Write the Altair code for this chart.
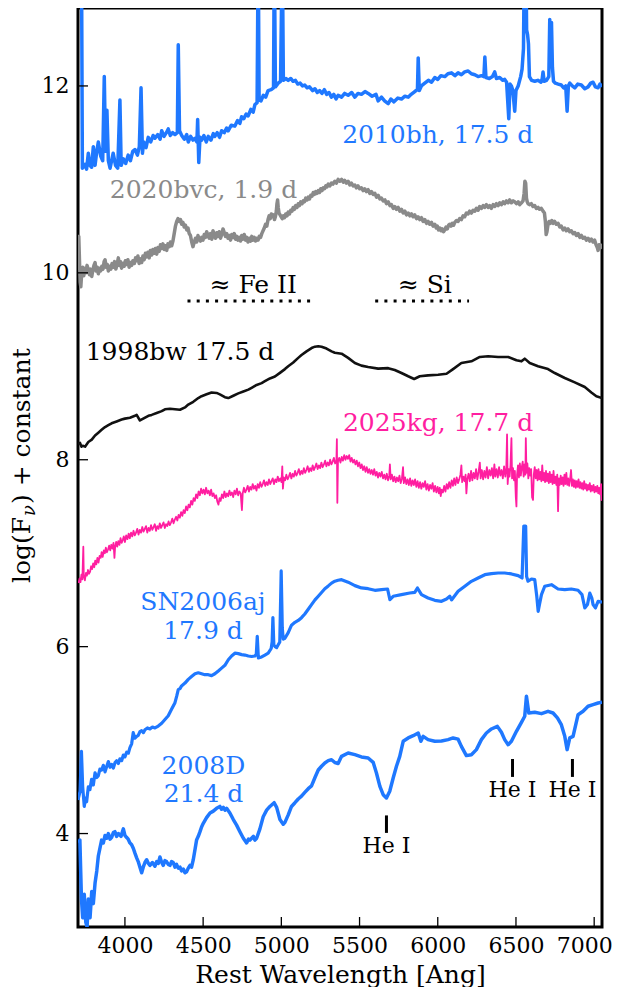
import altair as alt
import pandas as pd

FONT = "DejaVu Serif"
W, H = 524, 919
X_DOMAIN = [3700, 7050]
Y_DOMAIN = [3.0, 12.834]
X_TICKS = [4000, 4500, 5000, 5500, 6000, 6500, 7000]
Y_TICKS = [4, 6, 8, 10, 12]

BLUE = "#1f78ff"
GREY = "#8a8a8a"
PINK = "#ff1ea0"

# (rest wavelength [A], log F_nu + constant)
spec_2010bh = [
    (3700, 13.5), (3722, 13.5), (3728, 11.12), (3745, 11.16), (3755, 11.11), (3766, 11.28),
    (3776, 11.15), (3787, 11.13), (3798, 11.35), (3809, 11.15), (3820, 11.30), (3830, 11.40),
    (3845, 11.25), (3858, 11.20), (3868, 12.10), (3876, 11.30), (3885, 11.74), (3894, 11.20),
    (3905, 11.12), (3915, 11.20), (3925, 11.28), (3940, 11.15), (3954, 11.12), (3968, 11.85),
    (3976, 11.15), (3990, 11.22), (4005, 11.17), (4021, 11.26), (4035, 11.20), (4050, 11.30),
    (4064, 11.32), (4080, 11.26), (4092, 11.35), (4103, 11.98), (4112, 11.28), (4120, 11.40),
    (4135, 11.34), (4149, 11.45), (4165, 11.40), (4180, 11.47), (4192, 11.44), (4210, 11.48),
    (4225, 11.43), (4235, 11.52), (4250, 11.46), (4265, 11.50), (4277, 11.54), (4290, 11.47),
    (4305, 11.50), (4320, 11.48), (4335, 11.50), (4341, 12.44), (4349, 11.52), (4363, 11.47),
    (4380, 11.43), (4395, 11.48), (4405, 11.40), (4420, 11.46), (4435, 11.42), (4448, 11.44),
    (4460, 11.40), (4465, 11.64), (4472, 11.18), (4480, 11.45), (4490, 11.42), (4505, 11.47),
    (4520, 11.40), (4533, 11.46), (4550, 11.42), (4565, 11.49), (4575, 11.46), (4590, 11.50),
    (4605, 11.45), (4618, 11.52), (4635, 11.50), (4650, 11.55), (4660, 11.52), (4680, 11.58),
    (4703, 11.57), (4720, 11.63), (4735, 11.60), (4746, 11.67), (4760, 11.65), (4775, 11.70),
    (4788, 11.68), (4805, 11.75), (4820, 11.72), (4831, 11.80), (4845, 11.82), (4852, 13.5),
    (4858, 11.85), (4870, 11.84), (4885, 11.90), (4900, 11.88), (4915, 11.95), (4935, 11.96),
    (4950, 11.98), (4955, 13.5), (4962, 11.99), (4980, 12.03), (4995, 12.05), (5006, 13.5),
    (5013, 12.06), (5030, 12.08), (5044, 12.06), (5060, 12.08), (5075, 12.05), (5090, 12.06),
    (5105, 12.02), (5120, 12.03), (5135, 12.00), (5150, 12.01), (5165, 11.98), (5180, 11.99),
    (5200, 11.95), (5215, 11.97), (5230, 11.93), (5245, 11.95), (5260, 11.92), (5275, 11.96),
    (5290, 11.91), (5305, 11.93), (5320, 11.88), (5335, 11.91), (5350, 11.86), (5363, 11.90),
    (5385, 11.88), (5405, 11.92), (5427, 11.90), (5450, 11.93), (5470, 11.88), (5490, 11.92),
    (5512, 11.91), (5535, 11.94), (5555, 11.92), (5580, 11.89), (5605, 11.91), (5619, 11.84),
    (5640, 11.88), (5660, 11.84), (5683, 11.81), (5700, 11.86), (5720, 11.83), (5745, 11.87),
    (5768, 11.86), (5790, 11.89), (5811, 11.88), (5830, 11.91), (5853, 11.94), (5870, 11.96),
    (5875, 12.30), (5882, 11.95), (5895, 12.00), (5917, 12.03), (5940, 12.06), (5960, 12.04),
    (5981, 12.09), (6000, 12.07), (6020, 12.11), (6045, 12.10), (6065, 12.13), (6088, 12.14),
    (6110, 12.11), (6130, 12.14), (6151, 12.12), (6172, 12.15), (6194, 12.16), (6215, 12.13),
    (6237, 12.12), (6258, 12.10), (6279, 12.11), (6295, 12.10), (6301, 12.31), (6308, 12.09),
    (6330, 12.08), (6350, 12.10), (6364, 12.15), (6375, 12.08), (6396, 12.09), (6415, 12.06),
    (6428, 12.07), (6440, 12.04), (6454, 11.65), (6462, 12.02), (6471, 12.00), (6480, 11.95),
    (6492, 11.73), (6500, 11.95), (6514, 12.00), (6530, 12.10), (6539, 12.18), (6548, 12.40),
    (6554, 13.5), (6563, 13.5), (6568, 12.60), (6574, 12.55), (6580, 12.45), (6586, 12.10),
    (6600, 12.06), (6620, 12.05), (6640, 12.06), (6660, 12.04), (6668, 12.08), (6673, 12.15),
    (6680, 12.05), (6695, 12.06), (6710, 12.10), (6716, 12.71), (6721, 12.30), (6727, 12.68),
    (6733, 12.20), (6740, 12.05), (6752, 12.03), (6770, 12.02), (6790, 12.01), (6805, 11.98),
    (6818, 12.00), (6827, 11.73), (6835, 12.00), (6844, 12.03), (6860, 12.00), (6876, 11.98),
    (6895, 12.02), (6918, 12.01), (6940, 11.97), (6961, 11.99), (6978, 12.03), (6993, 12.04),
    (7008, 11.99), (7025, 11.98), (7037, 12.02), (7050, 11.99),
]

spec_2020bvc = [
    (3700, 10.05), (3705, 10.39), (3710, 10.10), (3714, 9.90), (3718, 9.85), (3723, 9.98),
    (3730, 10.06), (3737, 9.97), (3744, 10.05), (3751, 10.00), (3758, 10.08), (3766, 10.03),
    (3773, 9.98), (3780, 10.04), (3788, 9.96), (3795, 10.03), (3802, 10.08), (3809, 10.11),
    (3816, 10.02), (3823, 10.06), (3830, 9.99), (3838, 10.05), (3845, 10.02), (3852, 10.07),
    (3860, 10.04), (3867, 10.12), (3873, 10.14), (3880, 10.06), (3887, 10.09), (3894, 10.02),
    (3902, 10.07), (3910, 10.04), (3918, 10.10), (3926, 10.06), (3934, 10.12), (3942, 10.04),
    (3950, 10.09), (3958, 10.16), (3965, 10.08), (3972, 10.12), (3979, 10.05), (3987, 10.10),
    (3995, 10.07), (4003, 10.13), (4011, 10.09), (4019, 10.14), (4027, 10.06), (4035, 10.11),
    (4043, 10.08), (4051, 10.13), (4060, 10.10), (4068, 10.16), (4075, 10.13), (4083, 10.18),
    (4091, 10.10), (4099, 10.15), (4107, 10.11), (4115, 10.18), (4123, 10.14), (4131, 10.21),
    (4139, 10.17), (4147, 10.22), (4155, 10.16), (4163, 10.24), (4171, 10.19), (4179, 10.25),
    (4187, 10.21), (4195, 10.26), (4203, 10.20), (4211, 10.27), (4219, 10.23), (4227, 10.30),
    (4235, 10.26), (4243, 10.31), (4251, 10.25), (4259, 10.29), (4267, 10.24), (4275, 10.31),
    (4283, 10.28), (4291, 10.33), (4299, 10.29), (4307, 10.34), (4315, 10.42), (4323, 10.50),
    (4331, 10.55), (4339, 10.58), (4347, 10.55), (4355, 10.57), (4363, 10.52), (4371, 10.54),
    (4379, 10.49), (4387, 10.51), (4395, 10.46), (4403, 10.48), (4411, 10.42), (4419, 10.40),
    (4427, 10.33), (4435, 10.28), (4443, 10.33), (4451, 10.37), (4459, 10.33), (4467, 10.40),
    (4475, 10.36), (4483, 10.34), (4491, 10.38), (4499, 10.35), (4507, 10.41), (4515, 10.38),
    (4523, 10.44), (4531, 10.40), (4539, 10.37), (4547, 10.42), (4555, 10.36), (4563, 10.45),
    (4571, 10.40), (4579, 10.37), (4587, 10.43), (4595, 10.39), (4603, 10.44), (4611, 10.37),
    (4619, 10.41), (4627, 10.47), (4635, 10.43), (4643, 10.39), (4651, 10.42), (4659, 10.37),
    (4667, 10.40), (4675, 10.35), (4683, 10.41), (4691, 10.38), (4699, 10.42), (4707, 10.36),
    (4715, 10.39), (4723, 10.35), (4731, 10.38), (4739, 10.34), (4747, 10.40), (4755, 10.36),
    (4763, 10.41), (4771, 10.35), (4779, 10.38), (4787, 10.33), (4795, 10.37), (4803, 10.34),
    (4811, 10.39), (4819, 10.35), (4827, 10.38), (4835, 10.34), (4843, 10.37), (4851, 10.35),
    (4859, 10.39), (4867, 10.38), (4875, 10.42), (4883, 10.45), (4891, 10.48), (4899, 10.52),
    (4907, 10.50), (4915, 10.57), (4922, 10.61), (4929, 10.58), (4936, 10.63), (4943, 10.60),
    (4950, 10.62), (4956, 10.57), (4962, 10.60), (4968, 10.66), (4972, 10.74), (4976, 10.78),
    (4980, 10.70), (4985, 10.64), (4992, 10.62), (4999, 10.60), (5006, 10.58), (5013, 10.61),
    (5020, 10.59), (5028, 10.63), (5036, 10.61), (5044, 10.65), (5052, 10.63), (5060, 10.67),
    (5068, 10.66), (5076, 10.70), (5084, 10.68), (5092, 10.72), (5100, 10.70), (5108, 10.74),
    (5116, 10.72), (5124, 10.76), (5132, 10.74), (5140, 10.77), (5148, 10.76), (5156, 10.80),
    (5164, 10.78), (5172, 10.81), (5180, 10.79), (5188, 10.83), (5196, 10.82), (5204, 10.86),
    (5212, 10.84), (5220, 10.87), (5228, 10.85), (5236, 10.88), (5244, 10.86), (5252, 10.90),
    (5260, 10.88), (5268, 10.91), (5276, 10.90), (5284, 10.93), (5292, 10.92), (5300, 10.95),
    (5310, 10.93), (5320, 10.96), (5330, 10.95), (5342, 10.98), (5352, 10.96), (5363, 11.00),
    (5374, 10.98), (5385, 11.00), (5396, 10.97), (5405, 10.99), (5416, 10.96), (5427, 10.98),
    (5438, 10.94), (5448, 10.96), (5459, 10.93), (5470, 10.94), (5480, 10.91), (5490, 10.93),
    (5501, 10.90), (5512, 10.91), (5523, 10.88), (5533, 10.90), (5544, 10.87), (5555, 10.89),
    (5566, 10.85), (5576, 10.87), (5587, 10.84), (5598, 10.85), (5609, 10.81), (5619, 10.83),
    (5630, 10.79), (5640, 10.80), (5651, 10.77), (5662, 10.78), (5672, 10.74), (5683, 10.76),
    (5694, 10.72), (5704, 10.73), (5715, 10.69), (5725, 10.71), (5736, 10.68), (5747, 10.70),
    (5758, 10.66), (5768, 10.68), (5779, 10.64), (5790, 10.66), (5800, 10.62), (5811, 10.64),
    (5822, 10.61), (5832, 10.63), (5843, 10.60), (5853, 10.62), (5864, 10.58), (5874, 10.60),
    (5885, 10.57), (5896, 10.59), (5906, 10.55), (5917, 10.57), (5928, 10.53), (5938, 10.55),
    (5949, 10.52), (5960, 10.54), (5970, 10.50), (5981, 10.52), (5990, 10.48), (5997, 10.50),
    (6005, 10.46), (6013, 10.48), (6021, 10.45), (6029, 10.47), (6037, 10.44), (6045, 10.46),
    (6053, 10.49), (6061, 10.47), (6069, 10.51), (6077, 10.52), (6085, 10.50), (6093, 10.53),
    (6101, 10.51), (6109, 10.54), (6119, 10.56), (6130, 10.55), (6140, 10.58), (6151, 10.57),
    (6162, 10.61), (6172, 10.60), (6183, 10.64), (6194, 10.63), (6204, 10.66), (6215, 10.64),
    (6226, 10.67), (6237, 10.66), (6247, 10.69), (6258, 10.67), (6268, 10.71), (6279, 10.69),
    (6290, 10.72), (6300, 10.70), (6311, 10.73), (6322, 10.70), (6332, 10.72), (6343, 10.69),
    (6354, 10.73), (6364, 10.71), (6375, 10.74), (6386, 10.72), (6396, 10.75), (6407, 10.73),
    (6418, 10.76), (6428, 10.74), (6439, 10.77), (6450, 10.75), (6460, 10.78), (6471, 10.75),
    (6482, 10.77), (6492, 10.76), (6503, 10.74), (6514, 10.76), (6524, 10.73), (6535, 10.75),
    (6545, 10.77), (6552, 10.85), (6557, 10.98), (6562, 10.96), (6567, 10.80), (6572, 10.76),
    (6577, 10.74), (6588, 10.73), (6598, 10.74), (6609, 10.71), (6620, 10.72), (6630, 10.69),
    (6641, 10.70), (6651, 10.68), (6662, 10.69), (6673, 10.66), (6682, 10.64), (6688, 10.55),
    (6693, 10.41), (6698, 10.44), (6705, 10.52), (6712, 10.55), (6720, 10.53), (6729, 10.56),
    (6737, 10.53), (6747, 10.55), (6758, 10.52), (6769, 10.53), (6780, 10.49), (6790, 10.50),
    (6801, 10.46), (6812, 10.48), (6822, 10.45), (6833, 10.47), (6844, 10.44), (6854, 10.45),
    (6865, 10.42), (6876, 10.43), (6886, 10.40), (6897, 10.42), (6908, 10.38), (6918, 10.40),
    (6929, 10.37), (6940, 10.38), (6950, 10.35), (6961, 10.37), (6972, 10.34), (6982, 10.36),
    (6993, 10.33), (7003, 10.35), (7012, 10.30), (7020, 10.27), (7025, 10.24), (7032, 10.30),
    (7040, 10.27), (7050, 10.31),
]

spec_1998bw = [
    (3700, 8.17), (3713, 8.18), (3722, 8.14), (3730, 8.15), (3745, 8.14), (3766, 8.19),
    (3788, 8.215), (3809, 8.26), (3830, 8.29), (3851, 8.32), (3873, 8.35), (3894, 8.37),
    (3915, 8.39), (3947, 8.41), (3979, 8.43), (4000, 8.44), (4032, 8.45), (4064, 8.47),
    (4075, 8.48), (4096, 8.42), (4117, 8.44), (4150, 8.47), (4171, 8.48), (4203, 8.50),
    (4235, 8.52), (4256, 8.54), (4288, 8.545), (4320, 8.54), (4352, 8.535), (4384, 8.56),
    (4405, 8.59), (4437, 8.62), (4469, 8.66), (4490, 8.68), (4522, 8.70), (4554, 8.72),
    (4586, 8.715), (4607, 8.70), (4639, 8.67), (4661, 8.66), (4693, 8.685), (4725, 8.71),
    (4757, 8.73), (4789, 8.75), (4810, 8.77), (4842, 8.80), (4874, 8.82), (4895, 8.84),
    (4927, 8.87), (4959, 8.89), (4991, 8.93), (5023, 8.97), (5044, 9.00), (5076, 9.04),
    (5108, 9.09), (5129, 9.12), (5161, 9.16), (5193, 9.195), (5215, 9.21), (5236, 9.215),
    (5257, 9.21), (5289, 9.19), (5321, 9.16), (5342, 9.145), (5385, 9.135), (5427, 9.09),
    (5470, 9.035), (5512, 9.007), (5555, 8.993), (5619, 8.975), (5683, 8.98), (5725, 8.96),
    (5768, 8.928), (5811, 8.893), (5849, 8.864), (5885, 8.893), (5938, 8.903), (6002, 8.91),
    (6056, 8.92), (6098, 8.97), (6151, 9.035), (6215, 9.053), (6269, 9.10), (6322, 9.107),
    (6386, 9.10), (6450, 9.10), (6503, 9.064), (6535, 9.053), (6556, 9.082), (6588, 9.035),
    (6641, 9.00), (6705, 8.97), (6748, 8.928), (6812, 8.875), (6876, 8.828), (6940, 8.778),
    (6982, 8.72), (7014, 8.679), (7050, 8.66),
]

spec_2025kg = [
    (3703, 6.68), (3710, 6.73), (3716, 6.69), (3722, 6.77), (3728, 6.72), (3734, 7.07),
    (3737, 6.76), (3744, 6.71), (3751, 6.79), (3757, 6.76), (3764, 6.82), (3770, 6.78),
    (3777, 6.80), (3784, 6.86), (3790, 6.83), (3797, 6.89), (3804, 6.85), (3810, 6.92),
    (3817, 6.88), (3824, 6.95), (3831, 6.90), (3838, 6.97), (3845, 6.95), (3851, 7.01),
    (3858, 6.96), (3865, 7.03), (3872, 7.00), (3878, 7.06), (3885, 7.01), (3892, 7.04),
    (3899, 7.08), (3906, 7.03), (3913, 7.09), (3920, 7.05), (3927, 7.11), (3933, 6.95),
    (3937, 7.06), (3944, 7.12), (3951, 7.07), (3958, 7.13), (3965, 7.09), (3972, 7.16),
    (3979, 7.11), (3986, 7.14), (3993, 7.18), (4000, 7.12), (4008, 7.19), (4016, 7.15),
    (4024, 7.21), (4031, 7.16), (4039, 7.22), (4047, 7.18), (4055, 7.24), (4063, 7.19),
    (4071, 7.22), (4079, 7.26), (4087, 7.20), (4095, 7.25), (4103, 7.22), (4111, 7.28),
    (4119, 7.23), (4127, 7.26), (4135, 7.29), (4143, 7.22), (4151, 7.27), (4159, 7.24),
    (4167, 7.30), (4175, 7.25), (4183, 7.28), (4191, 7.31), (4199, 7.24), (4207, 7.29),
    (4215, 7.26), (4223, 7.32), (4231, 7.27), (4239, 7.30), (4247, 7.33), (4255, 7.27),
    (4263, 7.31), (4271, 7.29), (4279, 7.34), (4287, 7.30), (4295, 7.33), (4303, 7.37),
    (4311, 7.32), (4319, 7.36), (4327, 7.39), (4335, 7.35), (4343, 7.41), (4351, 7.38),
    (4359, 7.44), (4367, 7.40), (4375, 7.46), (4383, 7.43), (4391, 7.50), (4399, 7.46),
    (4407, 7.52), (4415, 7.49), (4423, 7.56), (4431, 7.52), (4439, 7.59), (4447, 7.56),
    (4455, 7.63), (4463, 7.59), (4471, 7.66), (4479, 7.62), (4487, 7.69), (4495, 7.64),
    (4503, 7.68), (4511, 7.63), (4519, 7.70), (4527, 7.64), (4535, 7.67), (4543, 7.62),
    (4551, 7.68), (4559, 7.61), (4567, 7.64), (4575, 7.59), (4583, 7.62), (4591, 7.55),
    (4598, 7.52), (4605, 7.59), (4612, 7.56), (4620, 7.63), (4628, 7.59), (4636, 7.66),
    (4644, 7.60), (4652, 7.64), (4660, 7.61), (4668, 7.67), (4676, 7.62), (4684, 7.65),
    (4692, 7.60), (4700, 7.67), (4708, 7.63), (4716, 7.69), (4724, 7.62), (4732, 7.66),
    (4740, 7.64), (4748, 7.46), (4753, 7.64), (4761, 7.70), (4769, 7.65), (4777, 7.68),
    (4785, 7.72), (4793, 7.66), (4801, 7.71), (4809, 7.68), (4817, 7.74), (4825, 7.69),
    (4833, 7.72), (4841, 7.67), (4849, 7.74), (4857, 7.70), (4865, 7.76), (4873, 7.71),
    (4881, 7.74), (4889, 7.78), (4897, 7.72), (4905, 7.76), (4913, 7.73), (4921, 7.79),
    (4929, 7.74), (4937, 7.77), (4945, 7.80), (4953, 7.74), (4961, 7.79), (4969, 7.76),
    (4977, 7.82), (4985, 7.77), (4993, 7.80), (5001, 7.76), (5006, 7.93), (5010, 7.69),
    (5016, 7.81), (5024, 7.78), (5032, 7.84), (5040, 7.79), (5048, 7.82), (5056, 7.86),
    (5064, 7.80), (5072, 7.85), (5080, 7.82), (5088, 7.88), (5096, 7.83), (5104, 7.86),
    (5112, 7.90), (5120, 7.84), (5128, 7.88), (5136, 7.85), (5144, 7.91), (5152, 7.86),
    (5160, 7.89), (5168, 7.93), (5176, 7.87), (5184, 7.91), (5192, 7.88), (5200, 7.94),
    (5208, 7.89), (5216, 7.92), (5224, 7.96), (5232, 7.90), (5240, 7.94), (5248, 7.91),
    (5256, 7.97), (5264, 7.92), (5272, 7.95), (5280, 7.99), (5288, 7.93), (5296, 7.97),
    (5304, 7.94), (5312, 8.00), (5320, 7.95), (5328, 7.98), (5336, 8.02), (5344, 7.96),
    (5352, 7.99), (5355, 8.22), (5358, 7.54), (5362, 7.98), (5370, 8.02), (5378, 7.97),
    (5386, 8.03), (5394, 7.99), (5402, 8.05), (5410, 8.00), (5418, 8.04), (5426, 8.01),
    (5434, 8.05), (5442, 7.98), (5450, 8.02), (5458, 7.97), (5466, 8.00), (5474, 7.95),
    (5482, 7.99), (5490, 7.93), (5498, 7.97), (5506, 7.91), (5514, 7.95), (5522, 7.89),
    (5530, 7.93), (5538, 7.87), (5546, 7.92), (5554, 7.86), (5562, 7.90), (5570, 7.85),
    (5578, 7.89), (5586, 7.84), (5594, 7.90), (5602, 7.83), (5610, 7.87), (5618, 7.81),
    (5626, 7.86), (5634, 7.82), (5642, 7.87), (5650, 7.80), (5658, 7.84), (5666, 7.79),
    (5674, 7.85), (5682, 7.78), (5690, 7.83), (5694, 7.95), (5699, 7.79), (5707, 7.84),
    (5715, 7.77), (5723, 7.82), (5731, 7.76), (5739, 7.81), (5747, 7.77), (5755, 7.83),
    (5763, 7.75), (5771, 7.80), (5778, 7.92), (5783, 7.75), (5791, 7.81), (5799, 7.74),
    (5807, 7.79), (5815, 7.73), (5823, 7.80), (5831, 7.72), (5839, 7.78), (5847, 7.73),
    (5855, 7.79), (5863, 7.71), (5871, 7.77), (5879, 7.70), (5887, 7.76), (5895, 7.69),
    (5903, 7.75), (5911, 7.71), (5919, 7.77), (5927, 7.68), (5935, 7.74), (5943, 7.67),
    (5951, 7.73), (5959, 7.69), (5967, 7.75), (5975, 7.66), (5983, 7.72), (5991, 7.65),
    (5999, 7.71), (6007, 7.64), (6013, 7.70), (6019, 7.61), (6025, 7.68), (6033, 7.65),
    (6041, 7.72), (6049, 7.66), (6057, 7.74), (6065, 7.69), (6073, 7.76), (6081, 7.70),
    (6089, 7.78), (6097, 7.72), (6105, 7.80), (6113, 7.73), (6121, 7.81), (6129, 7.75),
    (6137, 7.79), (6145, 7.84), (6151, 7.94), (6156, 7.76), (6164, 7.82), (6172, 7.77),
    (6178, 7.84), (6183, 7.64), (6189, 7.79), (6197, 7.85), (6205, 7.77), (6213, 7.88),
    (6221, 7.78), (6229, 7.86), (6237, 7.80), (6245, 7.90), (6253, 7.79), (6261, 7.87),
    (6269, 7.97), (6274, 7.80), (6282, 7.89), (6290, 7.79), (6298, 7.88), (6306, 7.81),
    (6314, 7.92), (6322, 7.80), (6330, 7.89), (6338, 7.83), (6346, 7.91), (6354, 7.80),
    (6362, 7.95), (6368, 7.82), (6376, 7.90), (6384, 7.81), (6392, 7.92), (6400, 7.83),
    (6408, 7.89), (6416, 7.80), (6424, 7.93), (6432, 7.82), (6438, 7.90), (6443, 8.27),
    (6447, 7.74), (6453, 7.90), (6459, 7.82), (6465, 7.94), (6471, 8.23), (6475, 7.80),
    (6481, 7.91), (6487, 7.78), (6493, 7.88), (6499, 7.60), (6503, 7.50), (6507, 7.84),
    (6513, 7.94), (6519, 7.81), (6525, 7.96), (6531, 7.83), (6537, 7.92), (6543, 7.98),
    (6549, 7.82), (6555, 7.95), (6560, 7.84), (6563, 8.23), (6567, 7.86), (6573, 7.96),
    (6579, 7.80), (6585, 7.91), (6591, 7.83), (6597, 7.90), (6603, 7.60), (6609, 7.57),
    (6614, 7.84), (6620, 7.92), (6626, 7.80), (6632, 7.89), (6638, 7.78), (6644, 7.90),
    (6650, 7.79), (6656, 7.87), (6662, 7.77), (6668, 7.94), (6674, 7.78), (6680, 7.86),
    (6686, 7.76), (6692, 7.88), (6698, 7.77), (6704, 7.85), (6710, 7.75), (6716, 7.87),
    (6722, 7.76), (6728, 7.84), (6734, 7.74), (6740, 7.88), (6746, 7.75), (6752, 7.82),
    (6758, 7.73), (6764, 7.84), (6769, 7.45), (6774, 7.80), (6780, 7.73), (6786, 7.83),
    (6792, 7.74), (6798, 7.81), (6804, 7.72), (6810, 7.84), (6816, 7.74), (6822, 7.86),
    (6828, 7.73), (6834, 7.80), (6840, 7.72), (6846, 7.79), (6852, 7.89), (6858, 7.72),
    (6864, 7.79), (6870, 7.71), (6876, 7.78), (6882, 7.70), (6888, 7.77), (6894, 7.71),
    (6900, 7.79), (6906, 7.70), (6912, 7.76), (6918, 7.69), (6924, 7.75), (6930, 7.68),
    (6936, 7.77), (6942, 7.69), (6948, 7.74), (6954, 7.67), (6960, 7.73), (6966, 7.68),
    (6972, 7.75), (6978, 7.66), (6984, 7.72), (6990, 7.67), (6996, 7.73), (7002, 7.65),
    (7008, 7.71), (7014, 7.66), (7020, 7.72), (7026, 7.64), (7032, 7.70), (7038, 7.63),
    (7044, 7.74), (7048, 7.56),
]

spec_2006aj = [
    (3700, 4.36), (3713, 4.45), (3722, 4.88), (3730, 4.50), (3740, 4.29), (3748, 4.38),
    (3755, 4.34), (3766, 4.50), (3776, 4.47), (3787, 4.58), (3798, 4.52), (3809, 4.65),
    (3820, 4.60), (3830, 4.62), (3840, 4.69), (3851, 4.68), (3862, 4.73), (3873, 4.66),
    (3884, 4.72), (3894, 4.77), (3905, 4.71), (3915, 4.74), (3926, 4.70), (3937, 4.76),
    (3947, 4.78), (3958, 4.75), (3968, 4.80), (3979, 4.78), (3990, 4.84), (4000, 4.82),
    (4011, 4.87), (4022, 4.86), (4032, 4.92), (4043, 4.96), (4053, 5.08), (4064, 5.02),
    (4075, 5.04), (4085, 5.05), (4096, 5.09), (4107, 5.10), (4118, 5.08), (4128, 5.11),
    (4144, 5.13), (4160, 5.12), (4176, 5.14), (4192, 5.13), (4213, 5.15), (4235, 5.18),
    (4256, 5.22), (4277, 5.26), (4298, 5.33), (4320, 5.40), (4331, 5.47), (4341, 5.54),
    (4352, 5.55), (4362, 5.58), (4384, 5.61), (4405, 5.65), (4426, 5.68), (4448, 5.71),
    (4469, 5.72), (4490, 5.71), (4511, 5.70), (4533, 5.70), (4554, 5.69), (4575, 5.71),
    (4597, 5.74), (4618, 5.77), (4639, 5.80), (4661, 5.86), (4682, 5.90), (4703, 5.93),
    (4725, 5.925), (4746, 5.915), (4767, 5.91), (4789, 5.90), (4810, 5.895), (4831, 5.90),
    (4840, 5.92), (4846, 6.11), (4853, 5.88), (4874, 5.89), (4895, 5.91), (4916, 5.93),
    (4935, 5.98), (4941, 6.05), (4946, 6.31), (4952, 6.02), (4960, 6.00), (4970, 5.99),
    (4980, 6.02), (4990, 6.05), (4999, 6.81), (5006, 6.20), (5012, 6.08), (5023, 6.09),
    (5044, 6.15), (5065, 6.23), (5087, 6.26), (5108, 6.28), (5129, 6.31), (5150, 6.35),
    (5172, 6.40), (5193, 6.45), (5215, 6.50), (5236, 6.54), (5257, 6.58), (5278, 6.62),
    (5300, 6.65), (5321, 6.68), (5342, 6.70), (5363, 6.71), (5385, 6.717), (5427, 6.69),
    (5470, 6.653), (5512, 6.628), (5555, 6.62), (5598, 6.603), (5640, 6.61), (5679, 6.617),
    (5694, 6.503), (5715, 6.539), (5768, 6.556), (5821, 6.574), (5853, 6.581), (5870, 6.628),
    (5896, 6.556), (5938, 6.521), (5981, 6.496), (6024, 6.485), (6056, 6.51), (6077, 6.539),
    (6088, 6.50), (6130, 6.592), (6173, 6.646), (6215, 6.699), (6258, 6.735), (6301, 6.77),
    (6343, 6.781), (6386, 6.788), (6428, 6.788), (6471, 6.778), (6514, 6.76), (6539, 6.735),
    (6550, 7.29), (6562, 7.29), (6568, 6.75), (6577, 6.70), (6599, 6.724), (6620, 6.717),
    (6633, 6.539), (6642, 6.378), (6650, 6.45), (6663, 6.556), (6684, 6.646), (6727, 6.663),
    (6769, 6.617), (6812, 6.61), (6854, 6.617), (6897, 6.603), (6922, 6.556), (6940, 6.414),
    (6957, 6.45), (6972, 6.574), (6985, 6.52), (6993, 6.45), (7008, 6.414), (7025, 6.485),
    (7050, 6.475),
]

spec_2008D = [
    (3703, 3.90), (3712, 3.93), (3722, 3.30), (3730, 3.10), (3740, 3.35), (3750, 3.05),
    (3758, 3.00), (3766, 3.30), (3777, 3.10), (3788, 3.38), (3798, 3.25), (3809, 3.47),
    (3820, 3.60), (3830, 3.76), (3841, 3.85), (3851, 3.93), (3862, 3.90), (3873, 3.98),
    (3884, 3.95), (3894, 4.00), (3905, 3.94), (3915, 3.96), (3926, 4.01), (3936, 4.02),
    (3947, 3.97), (3958, 4.00), (3975, 3.97), (3990, 4.05), (4000, 3.98), (4010, 3.96),
    (4021, 3.94), (4032, 3.90), (4043, 3.88), (4054, 3.84), (4064, 3.79), (4075, 3.74),
    (4085, 3.70), (4096, 3.64), (4107, 3.58), (4117, 3.64), (4128, 3.69), (4139, 3.72),
    (4150, 3.68), (4160, 3.66), (4176, 3.69), (4192, 3.65), (4203, 3.70), (4213, 3.68),
    (4224, 3.75), (4235, 3.69), (4245, 3.66), (4256, 3.71), (4266, 3.70), (4277, 3.67),
    (4288, 3.66), (4298, 3.70), (4309, 3.69), (4320, 3.64), (4330, 3.67), (4341, 3.63),
    (4352, 3.64), (4362, 3.60), (4373, 3.62), (4384, 3.58), (4394, 3.59), (4405, 3.63),
    (4416, 3.66), (4426, 3.64), (4437, 3.72), (4448, 3.83), (4458, 3.93), (4469, 3.97),
    (4480, 4.02), (4490, 4.07), (4501, 4.11), (4522, 4.17), (4544, 4.22), (4565, 4.24),
    (4586, 4.27), (4607, 4.29), (4618, 4.26), (4629, 4.28), (4640, 4.25), (4650, 4.27),
    (4671, 4.22), (4693, 4.15), (4714, 4.09), (4735, 4.02), (4757, 3.95), (4778, 3.90),
    (4790, 3.94), (4799, 3.93), (4810, 3.95), (4821, 3.97), (4831, 3.93), (4842, 3.95),
    (4863, 4.05), (4884, 4.18), (4906, 4.25), (4927, 4.29), (4954, 4.33), (4970, 4.28),
    (4991, 4.15), (5012, 4.10), (5023, 4.12), (5044, 4.20), (5065, 4.29), (5087, 4.33),
    (5108, 4.37), (5129, 4.40), (5150, 4.44), (5172, 4.48), (5193, 4.51), (5215, 4.60),
    (5236, 4.68), (5257, 4.72), (5278, 4.755), (5300, 4.78), (5321, 4.79), (5342, 4.76),
    (5363, 4.75), (5385, 4.826), (5427, 4.862), (5470, 4.844), (5512, 4.82), (5555, 4.809),
    (5587, 4.762), (5608, 4.648), (5630, 4.505), (5651, 4.416), (5672, 4.381), (5693, 4.452),
    (5715, 4.595), (5736, 4.72), (5757, 4.826), (5779, 4.987), (5811, 5.023), (5843, 5.047),
    (5875, 5.076), (5892, 4.987), (5907, 5.04), (5938, 5.005), (5981, 4.987), (6024, 4.99),
    (6066, 5.005), (6098, 5.023), (6130, 5.01), (6151, 4.933), (6183, 4.834), (6215, 4.844),
    (6247, 4.898), (6279, 5.005), (6311, 5.076), (6343, 5.119), (6381, 5.147), (6407, 5.083),
    (6428, 5.005), (6450, 4.951), (6471, 4.987), (6503, 5.094), (6535, 5.19), (6556, 5.255),
    (6567, 5.469), (6582, 5.29), (6620, 5.297), (6663, 5.283), (6705, 5.308), (6737, 5.29),
    (6765, 5.237), (6790, 5.165), (6812, 5.04), (6827, 4.898), (6844, 5.023), (6865, 5.04),
    (6897, 5.272), (6929, 5.308), (6961, 5.362), (6993, 5.379), (7025, 5.397), (7050, 5.404),
]

# annotations
label_text = ["2010bh, 17.5 d", "2020bvc, 1.9 d", "≈ Fe II", "≈ Si", "1998bw 17.5 d",
              "2025kg, 17.7 d", "SN2006aj", "17.9 d", "2008D", "21.4 d"]
label_wl = [6000, 4502, 4820, 5917, 4352, 6002, 4499, 4499, 4502, 4502]
label_fx = [11.393, 10.80, 9.788, 9.788, 9.071, 8.304, 6.388, 6.086, 4.641, 4.338]
label_color = [BLUE, GREY, "black", "black", "black", PINK, BLUE, BLUE, BLUE, BLUE]

band_wl_start = [4400, 5600]
band_wl_end = [5200, 6200]
band_fx = [9.7, 9.7]

hei_wl = [5672, 6478, 6861]
hei_tick_lo = [4.007, 4.606, 4.606]
hei_tick_hi = [4.194, 4.798, 4.798]
hei_text_fx = [3.792, 4.387, 4.387]

xs = alt.Scale(domain=X_DOMAIN, nice=False, zero=False)
ys = alt.Scale(domain=Y_DOMAIN, nice=False, zero=False)

x_axis = alt.Axis(values=X_TICKS, format="d", title="Rest Wavelength [Ang]", grid=False,
                  domain=False, ticks=False, labelFont=FONT, labelFontSize=22,
                  labelColor="black", labelPadding=8, labelFlush=10, labelFlushOffset=18,
                  labelOverlap=False,
                  titleFont=FONT, titleFontSize=25, titleFontWeight="normal",
                  titleColor="black", titleY=55, titleBaseline="alphabetic")
y_axis = alt.Axis(values=Y_TICKS, format="d", title=None, grid=False, domain=False,
                  ticks=False, labelFont=FONT, labelFontSize=22, labelColor="black",
                  labelPadding=9, labelFlush=False, labelOverlap=False)


def spectrum(spec, color, width):
    df = pd.DataFrame(spec, columns=["wl", "fx"])
    return alt.Chart(df).mark_line(color=color, strokeWidth=width, clip=True,
                                   strokeJoin="round").encode(
        x=alt.X("wl:Q", scale=xs, axis=x_axis),
        y=alt.Y("fx:Q", scale=ys, axis=y_axis),
    )


layers = [
    spectrum(spec_2010bh, BLUE, 3.5),
    spectrum(spec_2020bvc, GREY, 3.5),
    spectrum(spec_1998bw, "#111111", 2.6),
    spectrum(spec_2025kg, PINK, 1.8),
    spectrum(spec_2006aj, BLUE, 3.2),
    spectrum(spec_2008D, BLUE, 3.5),
]

labels_df = pd.DataFrame({"wl": label_wl, "fx": label_fx, "t": label_text, "c": label_color})
layers.append(
    alt.Chart(labels_df).mark_text(font=FONT, fontSize=25, align="center",
                                   baseline="alphabetic").encode(
        x=alt.X("wl:Q", scale=xs), y=alt.Y("fx:Q", scale=ys), text="t:N",
        color=alt.Color("c:N", scale=None))
)

bands_df = pd.DataFrame({"a": band_wl_start, "b": band_wl_end, "fx": band_fx})
layers.append(
    alt.Chart(bands_df).mark_rule(color="black", strokeWidth=3, strokeDash=[3, 6.2]).encode(
        x=alt.X("a:Q", scale=xs), x2="b:Q", y=alt.Y("fx:Q", scale=ys))
)

hei_df = pd.DataFrame({"wl": hei_wl, "lo": hei_tick_lo, "hi": hei_tick_hi,
                       "ty": hei_text_fx, "t": ["He I"] * 3})
layers.append(
    alt.Chart(hei_df).mark_rule(color="black", strokeWidth=3).encode(
        x=alt.X("wl:Q", scale=xs), y=alt.Y("lo:Q", scale=ys), y2="hi:Q")
)
layers.append(
    alt.Chart(hei_df).mark_text(font=FONT, fontSize=22, align="center",
                                baseline="alphabetic", color="black").encode(
        x=alt.X("wl:Q", scale=xs), y=alt.Y("ty:Q", scale=ys), text="t:N")
)

# inward tick marks
ytick_df = pd.DataFrame({"v": Y_TICKS})
layers.append(
    alt.Chart(ytick_df).mark_rule(color="black", strokeWidth=1.3).encode(
        y=alt.Y("v:Q", scale=ys), x=alt.value(0), x2=alt.value(10))
)
xtick_df = pd.DataFrame({"w": X_TICKS})
layers.append(
    alt.Chart(xtick_df).mark_rule(color="black", strokeWidth=1.3).encode(
        x=alt.X("w:Q", scale=xs), y=alt.value(H), y2=alt.value(H - 10))
)

# y-axis title with subscript nu
ylab_df = pd.DataFrame({"t": ["log(F"], "n": ["ν"], "r": [") + constant"]})
layers.append(
    alt.Chart(ylab_df).mark_text(font=FONT, fontSize=25, angle=270, align="left",
                                 baseline="alphabetic", color="black").encode(
        text="t:N", x=alt.value(-48), y=alt.value(575))
)
layers.append(
    alt.Chart(ylab_df).mark_text(font=FONT, fontSize=18, fontStyle="italic", angle=270,
                                 align="left", baseline="alphabetic", color="black").encode(
        text="n:N", x=alt.value(-43), y=alt.value(508))
)
layers.append(
    alt.Chart(ylab_df).mark_text(font=FONT, fontSize=25, angle=270, align="left",
                                 baseline="alphabetic", color="black").encode(
        text="r:N", x=alt.value(-48), y=alt.value(496))
)

chart = alt.layer(*layers).properties(
    width=W, height=H, autosize="none",
    padding={"left": 70, "top": 0, "right": 12, "bottom": 60},
    background="white",
).configure_view(stroke="black", strokeWidth=3)

chart.save("out.html", embed_options={"renderer": "svg", "actions": False})
